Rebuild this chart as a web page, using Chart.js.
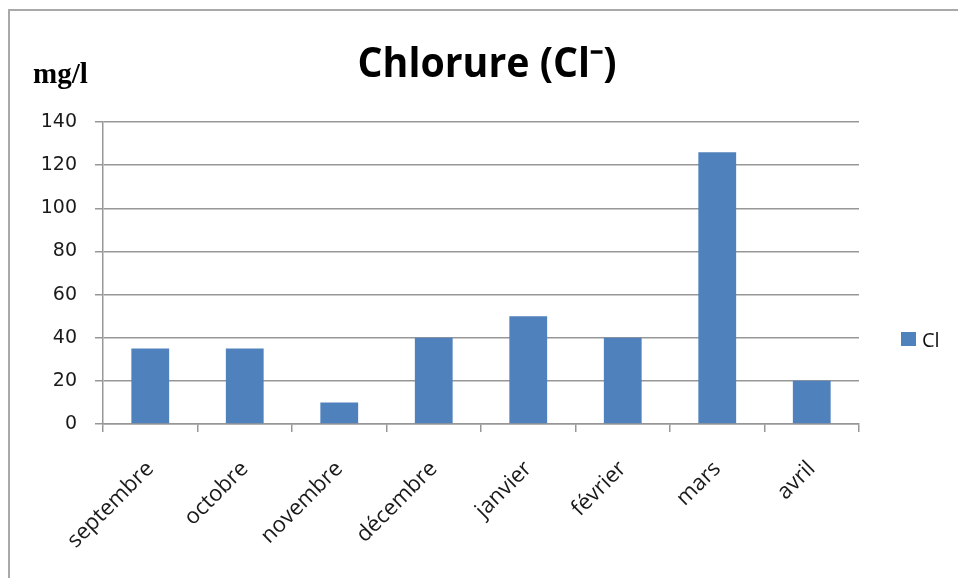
<!DOCTYPE html>
<html>
<head>
<meta charset="utf-8">
<script src="https://cdn.jsdelivr.net/npm/chart.js@4/dist/chart.umd.min.js"></script>
<style>
  html, body { margin: 0; padding: 0; background: #fff; }
  #wrap { width: 958px; height: 578px; }
</style>
</head>
<body>
<div id="wrap"><canvas id="chlorureChart" width="958" height="578"></canvas></div>
<script>
// Données
const months = ['septembre', 'octobre', 'novembre', 'décembre', 'janvier', 'février', 'mars', 'avril'];
const chlValues = [35, 35, 10, 40, 50, 40, 126, 20];
const seriesLabel = 'Cl';
const chartTitle = 'Chlorure (Cl\u207B)';
const unitLabel = 'mg/l';

const barColor = '#4F81BD';
const gridColor = '#979797';

// Cadre, titre, unité et légende dessinés à la main (style Excel)
const excelDecor = {
    id: 'excelDecor',
    beforeDraw(chart) {
        const ctx = chart.ctx;
        ctx.save();
        ctx.fillStyle = '#fff';
        ctx.fillRect(0, 0, chart.width, chart.height);
        ctx.strokeStyle = '#a9a9a9';
        ctx.lineWidth = 2;
        ctx.beginPath();
        ctx.moveTo(9, chart.height);
        ctx.lineTo(9, 10);
        ctx.lineTo(chart.width, 10);
        ctx.stroke();
        ctx.restore();
    },
    afterDraw(chart) {
        const ctx = chart.ctx;
        ctx.save();
        // titre (Calibri gras étroit -> Open Sans gras compressé)
        ctx.fillStyle = '#000';
        ctx.textAlign = 'center';
        ctx.textBaseline = 'alphabetic';
        ctx.font = 'bold 42px "Open Sans"';
        const w = ctx.measureText(chartTitle).width;
        const sx = Math.min(1, 259 / w);
        ctx.translate(487, 77);
        ctx.scale(sx, 1);
        ctx.fillText(chartTitle, 0, 0);
        ctx.setTransform(1, 0, 0, 1, 0, 0);
        // unité
        ctx.textAlign = 'left';
        ctx.font = 'bold 29px "Liberation Serif"';
        ctx.fillText(unitLabel, 33, 83);
        // légende
        const ds = chart.data.datasets[0];
        ctx.fillStyle = ds.backgroundColor;
        ctx.fillRect(901, 332, 15, 14);
        ctx.fillStyle = '#111';
        ctx.font = '20px "Open Sans"';
        ctx.fillText(ds.label, 922, 347);
        ctx.restore();
    }
};

new Chart(document.getElementById('chlorureChart'), {
    type: 'bar',
    data: {
        labels: months,
        datasets: [{
            label: seriesLabel,
            data: chlValues,
            backgroundColor: barColor,
            borderWidth: 0,
            categoryPercentage: 1,
            barPercentage: 0.4
        }]
    },
    options: {
        responsive: false,
        animation: false,
        layout: { padding: { top: 122, right: 99, left: 0, bottom: 0 } },
        plugins: {
            legend: { display: false },
            title: { display: false },
            tooltip: { enabled: false }
        },
        scales: {
            x: {
                offset: true,
                grid: {
                    offset: true,
                    drawOnChartArea: false,
                    drawTicks: true,
                    tickLength: 8,
                    color: gridColor,
                    lineWidth: 1.5
                },
                border: { color: gridColor, width: 1.5 },
                ticks: {
                    minRotation: 45,
                    maxRotation: 45,
                    autoSkip: false,
                    padding: 24,
                    color: '#1a1a1a',
                    font: { family: '"Open Sans"', size: 22 }
                },
                afterFit(scale) { scale.height = 154; }
            },
            y: {
                min: 0,
                max: 140,
                ticks: {
                    stepSize: 20,
                    padding: 18,
                    color: '#1a1a1a',
                    font: { family: '"DejaVu Sans"', size: 19 }
                },
                grid: {
                    color: gridColor,
                    lineWidth: 1.5,
                    tickLength: 8
                },
                border: { color: gridColor, width: 1.5 },
                afterFit(scale) { scale.width = 103; }
            }
        }
    },
    plugins: [excelDecor]
});
</script>
</body>
</html>
